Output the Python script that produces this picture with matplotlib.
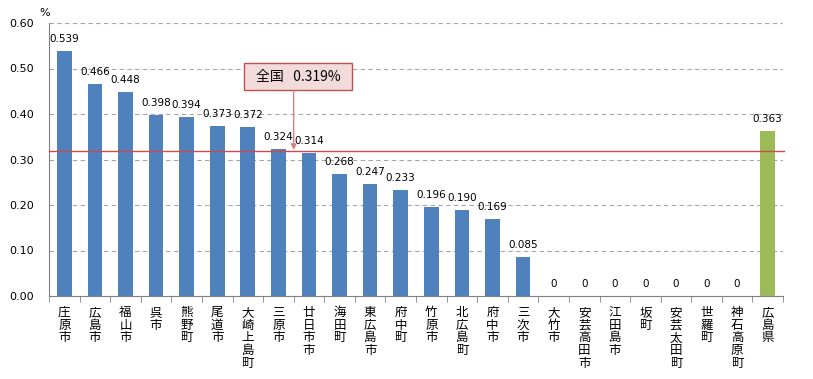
import matplotlib.pyplot as plt
from matplotlib.patches import Rectangle

plt.rcParams['font.family'] = ['Noto Sans CJK JP', 'DejaVu Sans']

names = ["庄原市", "広島市", "福山市", "呉市", "熊野町", "尾道市", "大崎上島町", "三原市",
         "廿日市市", "海田町", "東広島市", "府中町", "竹原市", "北広島町", "府中市", "三次市",
         "大竹市", "安芸高田市", "江田島市", "坂町", "安芸太田町", "世羅町", "神石高原町", "広島県"]
values = [0.539, 0.466, 0.448, 0.398, 0.394, 0.373, 0.372, 0.324,
          0.314, 0.268, 0.247, 0.233, 0.196, 0.190, 0.169, 0.085,
          0, 0, 0, 0, 0, 0, 0, 0.363]
labels = ["0.539", "0.466", "0.448", "0.398", "0.394", "0.373", "0.372", "0.324",
          "0.314", "0.268", "0.247", "0.233", "0.196", "0.190", "0.169", "0.085",
          "0", "0", "0", "0", "0", "0", "0", "0.363"]
national = 0.319

fig = plt.figure(figsize=(8.13, 3.79), dpi=100)
ax = fig.add_axes([49 / 813, 1 - 296 / 379, 734 / 813, 273 / 379])

n = len(names)
colors = ["#4F81BD"] * (n - 1) + ["#9BBB59"]
x = list(range(n))
ax.bar(x, values, width=0.48, color=colors, zorder=2)

for xi, v, lab in zip(x, values, labels):
    ax.annotate(lab, (xi, v), xytext=(0, 5), textcoords="offset points",
                ha="center", va="bottom", fontsize=7.5, family="DejaVu Sans")

ax.set_xlim(-0.5, n - 0.5)
ax.set_ylim(0, 0.6)
ax.set_yticks([0, 0.1, 0.2, 0.3, 0.4, 0.5, 0.6])
ax.set_yticklabels(["0.00", "0.10", "0.20", "0.30", "0.40", "0.50", "0.60"],
                   fontsize=8, family="DejaVu Sans")
ax.tick_params(axis="y", length=0, pad=11)
ax.yaxis.grid(True, linestyle=(0, (4, 3)), color="#A6A6A6", linewidth=0.8, zorder=0)

ax.set_xticks([i - 0.5 for i in range(n + 1)], minor=True)
ax.set_xticks(x)
ax.set_xticklabels(["\n".join(s) for s in names], fontsize=9, linespacing=0.98,
                   va="top")
ax.tick_params(axis="x", which="major", length=0, pad=7)
ax.tick_params(axis="x", which="minor", length=4, color="#808080", direction="out")

for s in ["top", "right"]:
    ax.spines[s].set_visible(False)
ax.spines["left"].set_color("#808080")
ax.spines["bottom"].set_color("#808080")

ax.axhline(national, color="#D04A4A", linewidth=1, zorder=3, xmax=1.002, clip_on=False)

# callout box for the national value
ax.add_patch(Rectangle((5.876, 0.4527), 3.532, 0.0594, facecolor="#F2DCDB",
                       edgecolor="#C0504D", lw=1, zorder=4, clip_on=False))
ax.text(7.64, 0.4824, "全国   0.319%", fontsize=10, ha="center", va="center", zorder=5)
ax.annotate("", xy=(7.5, national + 0.002), xytext=(7.5, 0.4527),
            arrowprops=dict(arrowstyle="-|>", color="#D98080", lw=1, mutation_scale=8,
                            shrinkA=0, shrinkB=0), zorder=4)

fig.text(45 / 813, 1 - 13 / 379, "%", fontsize=8, ha="center", va="center", family="DejaVu Sans")

fig.savefig("out.png", dpi=100)
